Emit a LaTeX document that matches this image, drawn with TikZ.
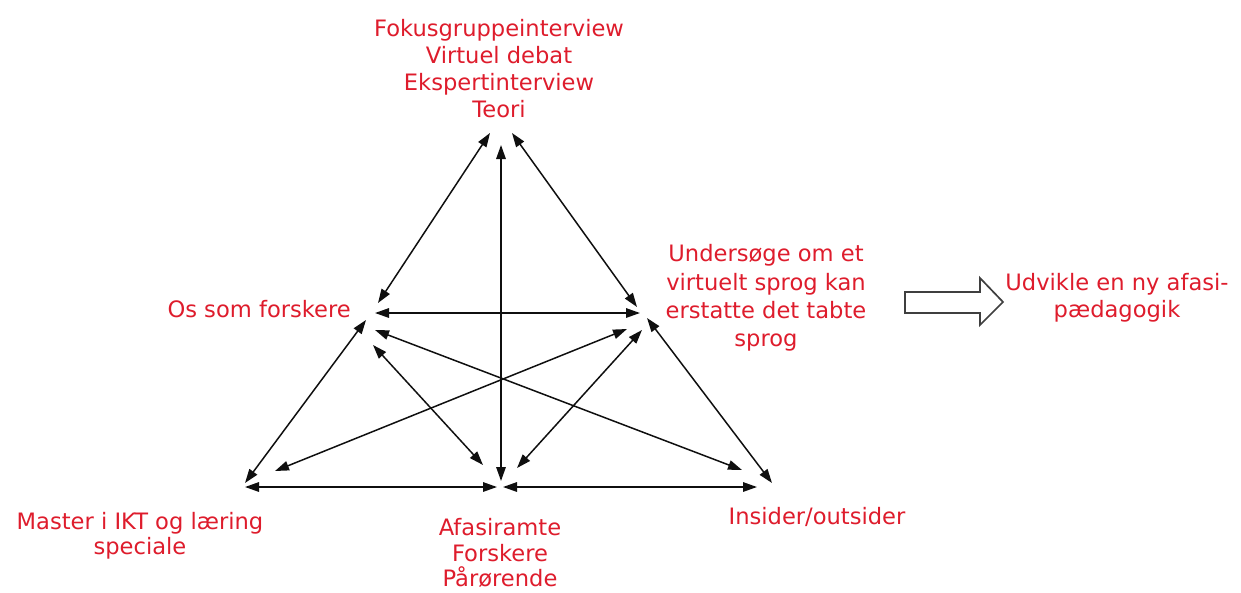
\documentclass[tikz,border=0pt]{standalone}
\usepackage{fontspec}
\setmainfont{DejaVu Sans}
\usetikzlibrary{arrows.meta,calc}
\definecolor{lbl}{RGB}{222,28,44}
\definecolor{ln}{RGB}{15,15,15}
\begin{document}
\begin{tikzpicture}[x=1pt,y=-1pt,
  lab/.style={text=lbl,font=\fontsize{22.6}{27}\selectfont,align=center,inner sep=0pt},
  labb/.style={lab,font=\fontsize{22.6}{25.5}\selectfont},
  labw/.style={lab,font=\fontsize{22.6}{28.3}\selectfont},
  dbl/.style={draw=ln,line width=1.5pt,{Triangle[length=14pt,width=9.5pt]}-{Triangle[length=14pt,width=9.5pt]}},
  hollow/.style={draw=ln!80,line width=1.7pt,fill=white,line join=miter}]
\useasboundingbox (0,0) rectangle (1241,592);
% labels
\node[lab] (top) at (499,69) {Fokusgruppeinterview\\Virtuel debat\\Ekspertinterview\\Teori};
\node[labw] (und) at (766,298) {Undersøge om et\\virtuelt sprog kan\\erstatte det tabte\\sprog};
\node[lab] (udv) at (1117,298) {Udvikle en ny afasi-\\pædagogik};
\node[lab,anchor=east] (os) at (351,309) {Os som forskere};
\node[labb] (mas) at (140,536) {Master i IKT og læring\\speciale};
\node[labb] (afa) at (500,553) {Afasiramte\\Forskere\\Pårørende};
\node[lab] (ins) at (817,517) {Insider/outsider};
% vertices
\coordinate (vT) at (500,128);
\coordinate (vO) at (372,313);
\coordinate (vU) at (640,313);
\coordinate (vBL) at (245,487);
\coordinate (vBM) at (500,487);
\coordinate (vBR) at (770,487);
% connectors
\draw[dbl] ($(vT)+(-10,5)$) -- ($(vO)+(6,-10)$);
\draw[dbl] ($(vT)+(12,5)$) -- ($(vU)+(-3,-6)$);
\draw[dbl] ($(vT)+(1,17)$) -- ($(vBM)+(1,-6)$);
\draw[dbl] ($(vO)+(3,0)$) -- ($(vU)+(0,0)$);
\draw[dbl] ($(vO)+(-6,7)$) -- ($(vBL)+(0,-4)$);
\draw[dbl] ($(vO)+(1,32)$) -- ($(vBM)+(-17,-22)$);
\draw[dbl] ($(vO)+(3,17)$) -- ($(vBR)+(-28,-17)$);
\draw[dbl] ($(vU)+(-13,16)$) -- ($(vBL)+(30,-16)$);
\draw[dbl] ($(vU)+(2,17)$) -- ($(vBM)+(17,-19)$);
\draw[dbl] ($(vU)+(7,5)$) -- ($(vBR)+(2,-4)$);
\draw[dbl] ($(vBL)+(0,0)$) -- ($(vBM)+(-3,0)$);
\draw[dbl] ($(vBM)+(3,0)$) -- ($(vBR)+(-13,0)$);
% hollow arrow
\coordinate (ha) at (905,302);
\draw[hollow] ($(ha)+(0,-10)$) -- ($(ha)+(75,-10)$) -- ($(ha)+(75,-24)$) -- ($(ha)+(98,0)$)
  -- ($(ha)+(75,23)$) -- ($(ha)+(75,11)$) -- ($(ha)+(0,11)$) -- cycle;
\end{tikzpicture}
\end{document}
